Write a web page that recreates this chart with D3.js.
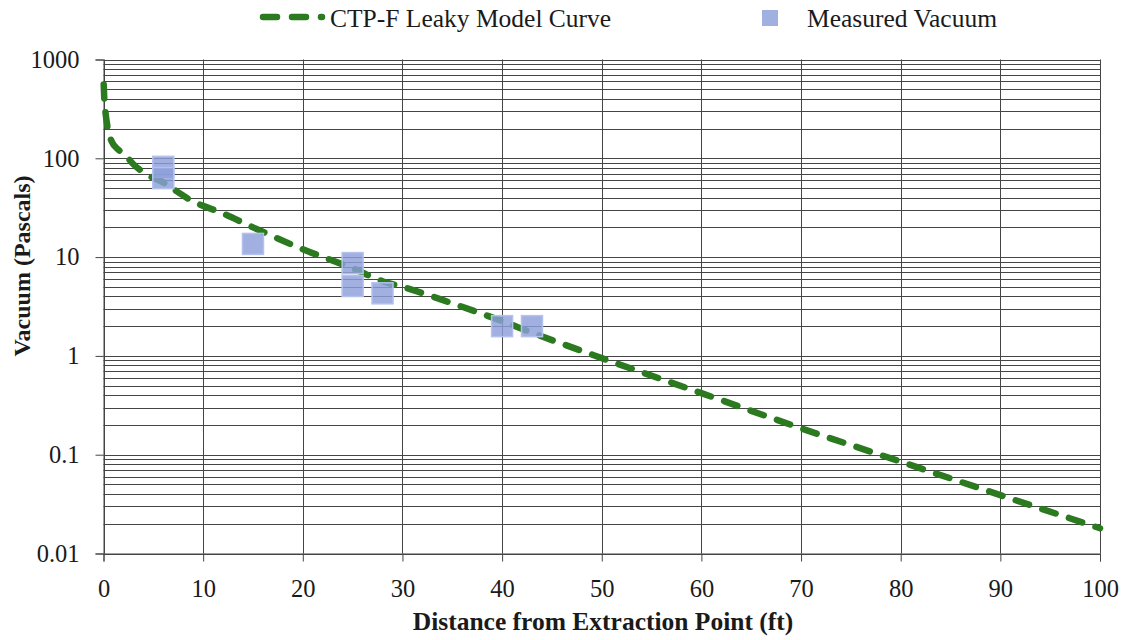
<!DOCTYPE html>
<html>
<head>
<meta charset="utf-8">
<script src="https://cdn.jsdelivr.net/npm/d3@7/dist/d3.min.js"></script>
<style>
  html, body { margin: 0; padding: 0; background: #ffffff; }
  svg { display: block; }
  text { font-family: "Liberation Serif", "Times New Roman", serif; fill: #1a1a1a; }
</style>
</head>
<body>
<svg id="chart" width="1125" height="640"></svg>
<script>
// ---- data ----
const curveX = [0.02, 0.1, 0.2, 0.45, 0.85, 1.5, 2.2, 3, 4.3, 6, 7.4, 9, 10, 11.5, 15, 20, 25, 28, 30, 35, 40, 43, 50, 60, 70, 80, 90, 100];
const curveY = [560, 360, 290, 195, 146, 122, 107, 87, 69, 57, 46, 36.5, 33, 29, 20, 12, 7.7, 5.7, 5.0, 3.4, 2.25, 1.72, 0.95, 0.42, 0.185, 0.085, 0.039, 0.018];
const measuredX = [6, 6, 15, 25, 25, 28, 40, 43];
const measuredY = [82, 63, 13.6, 8.7, 5.1, 4.3, 2.0, 2.0];
const xTicks = [0, 10, 20, 30, 40, 50, 60, 70, 80, 90, 100];
const yTicks = [0.01, 0.1, 1, 10, 100, 1000];
const yTickLabels = ["0.01", "0.1", "1", "10", "100", "1000"];
const seriesNames = ["CTP-F Leaky Model Curve", "Measured Vacuum"];
const xTitle = "Distance from Extraction Point (ft)";
const yTitle = "Vacuum (Pascals)";

// ---- layout ----
const L = 103.5, R = 1100, T = 59.5, B = 553.5;
const svg = d3.select("#chart");
const x = d3.scaleLinear().domain([0, 100]).range([L, R]);
const y = d3.scaleLog().domain([0.01, 1000]).range([B, T]);

const gridColor = "#454545";

// minor + major horizontal gridlines
const hLines = [];
yTicks.forEach((d, i) => {
  if (i < yTicks.length - 1) {
    for (let m = 1; m <= 9; m++) hLines.push(d * m);
  } else hLines.push(d);
});
svg.append("g").selectAll("line").data(hLines).join("line")
  .attr("x1", L).attr("x2", R)
  .attr("y1", d => Math.round(y(d)) + 0.5).attr("y2", d => Math.round(y(d)) + 0.5)
  .attr("stroke", gridColor).attr("stroke-width", 1);

// vertical gridlines
svg.append("g").selectAll("line").data(xTicks).join("line")
  .attr("x1", d => Math.round(x(d)) + 0.5).attr("x2", d => Math.round(x(d)) + 0.5)
  .attr("y1", T).attr("y2", B)
  .attr("stroke", gridColor).attr("stroke-width", 1);

// axes
const yAxis = d3.axisLeft(y).tickValues(yTicks)
  .tickFormat((d, i) => yTickLabels[i]).tickSize(8).tickPadding(16);
const gy = svg.append("g").attr("transform", `translate(${L},0)`).call(yAxis);
gy.select(".domain").attr("stroke", gridColor);
gy.selectAll(".tick line").attr("stroke", gridColor);
gy.selectAll("text").style("font-size", "24.5px").style("font-family", "Liberation Serif").attr("fill", "#1a1a1a");

const xAxis = d3.axisBottom(x).tickValues(xTicks).tickSize(8).tickPadding(18);
const gx = svg.append("g").attr("transform", `translate(0,${B})`).call(xAxis);
gx.select(".domain").attr("stroke", gridColor);
gx.selectAll(".tick line").attr("stroke", gridColor);
gx.selectAll("text").style("font-size", "24.5px").style("font-family", "Liberation Serif").attr("fill", "#1a1a1a");

// curve
const curveData = curveX.map((v, i) => [v, curveY[i]]);
const line = d3.line().x(d => x(d[0])).y(d => y(d[1])).curve(d3.curveMonotoneX);
const green = "#2b7a1f";
svg.append("path").datum(curveData)
  .attr("d", line)
  .attr("fill", "none")
  .attr("stroke", green)
  .attr("stroke-width", 6.5)
  .attr("stroke-linecap", "round")
  .attr("stroke-dasharray", "14,14");

// measured points
const sz = 21;
svg.append("g").selectAll("rect").data(measuredX.map((v, i) => [v, measuredY[i]])).join("rect")
  .attr("x", d => x(d[0]) - sz / 2).attr("y", d => y(d[1]) - sz / 2)
  .attr("width", sz).attr("height", sz)
  .attr("fill", "#8c9fdb").attr("fill-opacity", 0.82)
  .attr("stroke", "#b4c1ec").attr("stroke-width", 1.5);

// axis titles
svg.append("text").attr("x", 603).attr("y", 630)
  .attr("text-anchor", "middle").style("font-size", "25.5px").style("font-weight", "bold")
  .text(xTitle);
svg.append("text").attr("transform", "translate(30,266) rotate(-90)")
  .attr("text-anchor", "middle").style("font-size", "24px").style("font-weight", "bold")
  .text(yTitle);

// legend
const lg = svg.append("g");
lg.append("line").attr("x1", 263).attr("x2", 322).attr("y1", 17).attr("y2", 17)
  .attr("stroke", green).attr("stroke-width", 6.5).attr("stroke-linecap", "round")
  .attr("stroke-dasharray", "14,15");
lg.append("text").attr("x", 330).attr("y", 27).style("font-size", "25.5px").text(seriesNames[0]);
lg.append("rect").attr("x", 762).attr("y", 10).attr("width", 16).attr("height", 16)
  .attr("fill", "#8c9fdb").attr("fill-opacity", 0.82);
lg.append("text").attr("x", 807).attr("y", 27).style("font-size", "25.5px").text(seriesNames[1]);
</script>
</body>
</html>
